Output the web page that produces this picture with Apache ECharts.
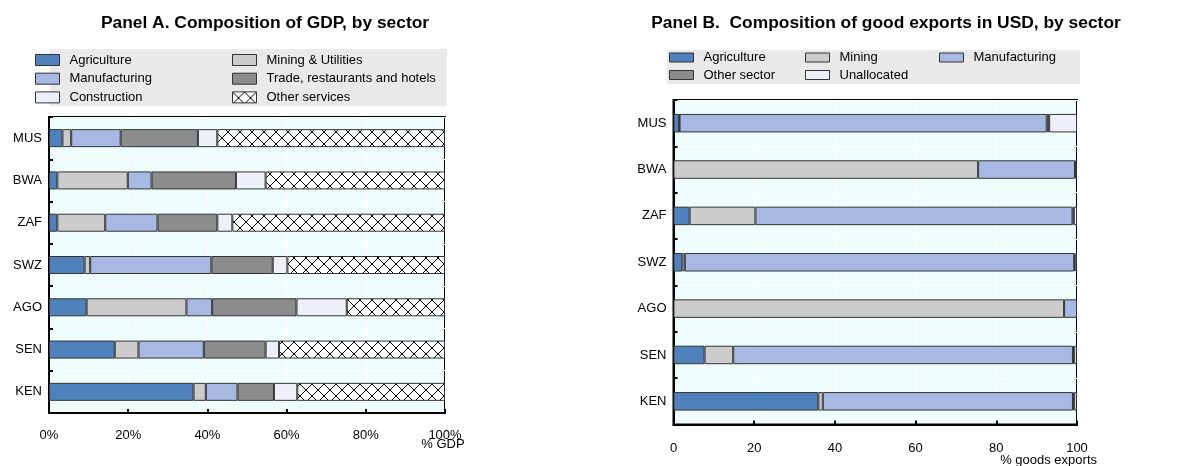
<!DOCTYPE html>
<html>
<head>
<meta charset="utf-8">
<script src="https://cdn.jsdelivr.net/npm/echarts@6/dist/echarts.min.js"></script>
<style>
  html, body { margin: 0; padding: 0; background: #fff; }
  #chart { width: 1189px; height: 466px; }
</style>
</head>
<body>
<div id="chart"></div>
<script>
// Country codes, top to bottom
const countries = ['MUS', 'BWA', 'ZAF', 'SWZ', 'AGO', 'SEN', 'KEN'];

// Panel A: share of GDP by sector (%)
const gdpAgriculture   = [3.4, 2.1, 2.1, 9.0, 9.5, 16.6, 36.5];
const gdpMining        = [2.2, 17.8, 12.1, 1.4, 25.2, 6.0, 3.1];
const gdpManufacturing = [12.5, 6.0, 13.2, 30.6, 6.5, 16.5, 8.0];
const gdpTrade         = [19.5, 21.3, 15.1, 15.5, 21.3, 15.6, 9.2];
const gdpConstruction  = [4.9, 7.5, 3.8, 3.7, 12.7, 3.4, 5.9];
const gdpOtherServices = [57.5, 45.3, 53.7, 39.8, 24.8, 41.9, 37.3];

// Panel B: share of goods exports in USD by sector (%)
const expAgriculture   = [1.4, null, 4.0, 2.2, null, 7.7, 35.9];
const expMining        = [0.1, 75.5, 16.3, 0.6, 96.8, 7.1, 1.1];
const expManufacturing = [91.0, 24.0, 78.6, 96.5, 3.2, 84.2, 62.0];
const expOtherSector   = [0.6, 0.5, 0.3, 0.3, null, 0.3, 0.3];
const expUnallocated   = [6.9, null, 0.8, 0.4, null, 0.7, 0.7];

// Axis ticks
const gdpTicks = [0, 20, 40, 60, 80, 100];
const expTicks = [0, 20, 40, 60, 80, 100];

const FONT = "'Liberation Sans', Arial, sans-serif";
const C_AGRI = '#4f81bd';
const C_MINE = '#cccccc';
const C_MANU = '#a7b9e3';
const C_TRADE = '#8c8c8c';
const C_CONS = '#edf0f8';
const EDGE = '#333333';

// Cross-hatch fill for "Other services"
function hatchTile() {
  const s = 12;
  const c = document.createElement('canvas');
  c.width = s; c.height = s;
  const g = c.getContext('2d');
  g.fillStyle = '#ffffff';
  g.fillRect(0, 0, s, s);
  g.strokeStyle = '#000000';
  g.lineWidth = 1;
  g.beginPath();
  g.moveTo(0, 0); g.lineTo(s, s);
  g.moveTo(s, 0); g.lineTo(0, s);
  g.stroke();
  return c;
}
const HATCH = { image: hatchTile(), repeat: 'repeat' };

function barSeries(name, data, color, panel) {
  return {
    name: name,
    type: 'bar',
    stack: panel === 0 ? 'gdp' : 'exp',
    xAxisIndex: panel,
    yAxisIndex: panel,
    barWidth: panel === 0 ? 18 : 18.5,
    data: data,
    itemStyle: { color: color, borderColor: EDGE, borderWidth: 1 },
    emphasis: { disabled: true },
    animation: false
  };
}

function legendCol(left, top, names, itemHeight, gap) {
  return {
    orient: 'vertical',
    left: left,
    top: top,
    padding: 0,
    itemGap: gap,
    itemWidth: 24,
    itemHeight: itemHeight,
    icon: 'rect',
    selectedMode: false,
    data: names,
    itemStyle: { borderColor: EDGE, borderWidth: 1 },
    textStyle: { fontFamily: FONT, fontSize: 13, color: '#000', lineHeight: 14, padding: [0, 0, 0, 5] }
  };
}

function valueAxis(grid, ticks, fmt, labelMargin, unit, unitGap, unitAlign, unitPad) {
  return {
    type: 'value',
    gridIndex: grid,
    min: ticks[0],
    max: ticks[ticks.length - 1],
    interval: ticks[1] - ticks[0],
    name: unit,
    nameLocation: 'end',
    nameGap: unitGap,
    nameMoveOverlap: false,
    nameTextStyle: { fontFamily: FONT, fontSize: 13, color: '#000', align: unitAlign, verticalAlign: 'top', lineHeight: 15, padding: [unitPad, 0, 0, 0] },
    axisLine: { show: true, lineStyle: { color: '#000', width: 2 } },
    axisTick: { show: true, inside: true, length: 4, lineStyle: { color: '#000', width: 2 } },
    axisLabel: { fontFamily: FONT, fontSize: 13, color: '#000', margin: labelMargin, formatter: fmt },
    splitLine: { show: true, lineStyle: { color: '#ffffff', width: 1 } }
  };
}

function categoryAxis(grid) {
  return {
    type: 'category',
    gridIndex: grid,
    data: countries,
    inverse: true,
    axisLine: { show: true, lineStyle: { color: '#000', width: 2 } },
    axisTick: { show: true, inside: true, length: 4, lineStyle: { color: '#000', width: 2 } },
    axisLabel: { fontFamily: FONT, fontSize: 13, color: '#000', margin: 7 },
    splitLine: { show: true, lineStyle: { color: '#ffffff', width: 1 } }
  };
}

const chart = echarts.init(document.getElementById('chart'), null, { renderer: 'canvas' });

chart.setOption({
  backgroundColor: '#ffffff',
  animation: false,
  title: [
    { text: 'Panel A. Composition of GDP, by sector', left: 260, top: 10, textAlign: 'center',
      textStyle: { fontFamily: FONT, fontSize: 17.4, fontWeight: 'bold', color: '#000' } },
    { text: 'Panel B.  Composition of good exports in USD, by sector', left: 881, top: 10, textAlign: 'center',
      textStyle: { fontFamily: FONT, fontSize: 17.4, fontWeight: 'bold', color: '#000' } }
  ],
  graphic: [
    { type: 'rect', left: 50, top: 49, z: -1, shape: { width: 397, height: 57 }, style: { fill: '#e9e9e9' } },
    { type: 'rect', left: 667, top: 50, z: -1, shape: { width: 413, height: 34 }, style: { fill: '#e9e9e9' } }
  ],
  legend: [
    legendCol(35, 53, ['Agriculture', 'Manufacturing', 'Construction'], 11, 4.7),
    legendCol(232, 53, ['Mining & Utilities', 'Trade, restaurants and hotels', 'Other services'], 11, 4.7),
    legendCol(669, 50.5, ['Agriculture', 'Other sector'], 9, 3.5),
    legendCol(805, 50.5, ['Mining', 'Unallocated'], 9, 3.5),
    legendCol(939, 50.5, ['Manufacturing'], 9, 3.5)
  ],
  grid: [
    { left: 49, top: 117, width: 396, height: 296, outerBoundsMode: 'none', containLabel: false,
      show: true, backgroundColor: '#f0fdfd', borderColor: '#000', borderWidth: 2 },
    { left: 673.5, top: 100, width: 403.5, height: 324.5, outerBoundsMode: 'none', containLabel: false,
      show: true, backgroundColor: '#f0fdfd', borderColor: '#000', borderWidth: 2 }
  ],
  xAxis: [
    valueAxis(0, gdpTicks, v => v + '%', 16, '% GDP', -2, 'center', 24),
    valueAxis(1, expTicks, v => String(v), 17, '% goods exports', 20, 'right', 28)
  ],
  yAxis: [categoryAxis(0), categoryAxis(1)],
  series: [
    barSeries('Agriculture', gdpAgriculture, C_AGRI, 0),
    barSeries('Mining & Utilities', gdpMining, C_MINE, 0),
    barSeries('Manufacturing', gdpManufacturing, C_MANU, 0),
    barSeries('Trade, restaurants and hotels', gdpTrade, C_TRADE, 0),
    barSeries('Construction', gdpConstruction, C_CONS, 0),
    barSeries('Other services', gdpOtherServices, HATCH, 0),
    barSeries('Agriculture', expAgriculture, C_AGRI, 1),
    barSeries('Mining', expMining, C_MINE, 1),
    barSeries('Manufacturing', expManufacturing, C_MANU, 1),
    barSeries('Other sector', expOtherSector, C_TRADE, 1),
    barSeries('Unallocated', expUnallocated, C_CONS, 1)
  ]
});
</script>
</body>
</html>
